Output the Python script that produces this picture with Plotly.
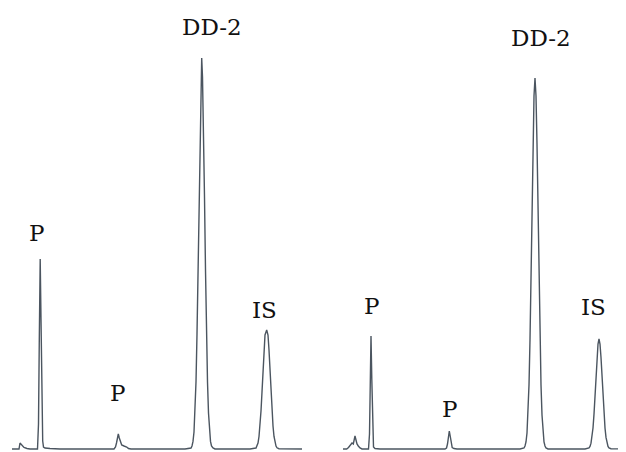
import plotly.graph_objects as go

# Left chromatogram (retention position, detector signal above baseline)
left_time = [12, 19, 20, 21, 22.5, 24, 27, 30,
             37.5, 38.5, 39.3, 40.2, 41, 41.8, 42.7, 43.5, 45, 50, 60,
             114, 115.5, 116.5, 117.5, 118.3, 119.3, 120.5, 121.7, 124, 126.7, 128.5, 131,
             185, 190, 191, 192, 193, 194, 195, 196, 197, 198, 199, 200, 201, 201.7,
             202.5, 203.5, 204.5, 205.5, 206.5, 207.5, 208.5, 209.5, 210.5, 211.5, 213, 215,
             250, 256, 257, 258, 259, 260, 261, 262, 263, 264, 265, 266.7,
             268, 269, 270, 271, 272, 273, 274, 275, 276, 277, 279, 302]
left_signal = [0, 0, 6, 5, 3, 1.5, 0.5, 0,
               0, 25, 110, 190, 130, 45, 8, 2, 1, 0.5, 0,
               0, 2, 6, 12, 15, 11, 6, 4, 3, 2, 0.5, 0,
               0, 0.5, 1, 3, 7.6, 17, 36, 67, 115, 179, 252, 322, 372, 391,
               372, 322, 252, 179, 115, 67, 36, 17, 7.6, 3, 1, 0,
               0, 1, 3, 6, 12.5, 23, 38, 57, 79, 99, 114, 119,
               114, 99, 79, 57, 38, 23, 12.5, 6.3, 2.9, 1.2, 0.3, 0]

# Right chromatogram
right_time = [343, 346.7, 348.5, 350, 352, 353.3, 355, 356, 357, 358.3, 360, 362,
              368.5, 369.5, 370.3, 371, 371.8, 372.6, 373.5, 375, 380,
              445, 446.5, 447.5, 448.5, 449.3, 450.2, 451.2, 452.2, 454, 457,
              520, 524, 525, 526, 527, 528, 529, 530, 531, 532, 533, 534, 535,
              536, 537, 538, 539, 540, 541, 542, 543, 544, 545, 546, 548,
              585, 589, 590, 591, 592, 593, 594, 595, 596, 597, 598, 599,
              600, 601, 602, 603, 604, 605, 606, 607, 608, 609, 611, 623]
right_signal = [0, 0, 1.5, 3, 6, 5, 13, 9, 5, 3, 1, 0,
                0, 15, 70, 113, 70, 15, 2, 0.5, 0,
                0, 1, 5, 13, 18, 13, 5, 1.5, 0.5, 0,
                0, 1, 3, 7, 16, 34, 64, 109, 170, 239, 305, 353, 371,
                353, 305, 239, 170, 109, 64, 34, 16, 7, 3, 1, 0,
                0, 1.1, 2.6, 5.8, 11.6, 21, 34.9, 52.8, 72.7, 91.5, 105, 110,
                105, 91.5, 72.7, 52.8, 34.9, 21, 11.6, 5.8, 2.6, 1.1, 0.3, 0]

# Peak labels
label_text = ["P", "P", "DD-2", "IS", "P", "P", "DD-2", "IS"]
label_time = [36.7, 117.7, 212, 264, 371.7, 449.7, 540.8, 593]
label_signal = [216, 56, 422, 139, 143, 40, 411, 142]

line_color = "#4b5560"
serif = "DejaVu Serif, Liberation Serif, serif"

fig = go.Figure()
for t, s in [(left_time, left_signal), (right_time, right_signal)]:
    fig.add_trace(go.Scatter(x=t, y=s, mode="lines",
                             line=dict(color=line_color, width=1.4),
                             hoverinfo="skip", showlegend=False))

for txt, xt, ys in zip(label_text, label_time, label_signal):
    fig.add_annotation(x=xt, y=ys, text=txt, showarrow=False,
                       xanchor="center", yanchor="middle",
                       font=dict(family=serif, size=23, color="#111111"))

# page has an 8px body margin; size the figure so it fits the 626x452 window
fig.update_layout(width=618, height=444, margin=dict(l=0, r=0, t=0, b=0),
                  paper_bgcolor="white", plot_bgcolor="white",
                  font=dict(family=serif))
fig.update_xaxes(range=[8, 626], visible=False)
fig.update_yaxes(range=[-3, 441], visible=False)

fig.write_html("out.html")
